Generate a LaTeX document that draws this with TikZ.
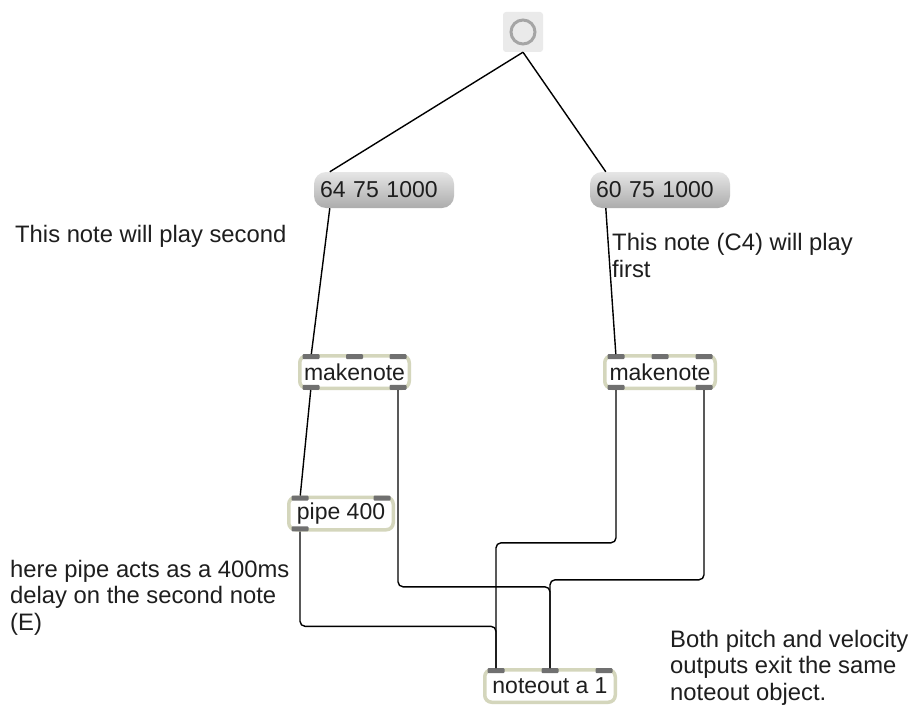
\documentclass[tikz,border=0pt]{standalone}
\usepackage{fontspec}
\setmainfont{Liberation Sans}
\usetikzlibrary{positioning}

\definecolor{objborder}{RGB}{212,214,188}
\definecolor{portgray}{RGB}{112,112,112}
\definecolor{msgtop}{RGB}{230,230,230}
\definecolor{msgbottom}{RGB}{172,172,172}
\definecolor{bangfill}{RGB}{234,234,234}
\definecolor{bangring}{RGB}{165,165,165}
\definecolor{inktext}{RGB}{30,30,30}

\newcommand{\patchfont}{\fontsize{23}{27}\selectfont}
\newcommand{\notefont}{\fontsize{23.8}{26.3}\selectfont}

\tikzset{
  objbox/.style={draw=objborder, line width=3.5pt, fill=white, rounded corners=7pt,
    minimum height=32.5pt, inner sep=0pt, font=\patchfont, text=inktext},
  msgbox/.style={rounded corners=12pt, top color=msgtop, bottom color=msgbottom,
    minimum height=36pt, text width=128pt, inner xsep=6pt, inner ysep=0pt,
    font=\patchfont, text=inktext},
  port/.style={fill=portgray, minimum width=17pt, minimum height=5pt, inner sep=0pt,
    rounded corners=1pt},
  patchcord/.style={line width=1.4pt, rounded corners=5pt},
  comment/.style={anchor=base west, align=left, font=\notefont, text=inktext, inner sep=0pt},
}

\begin{document}
\begin{tikzpicture}[x=1pt, y=-1pt]
    \fill[white] (0,0) rectangle (912,709);
    \useasboundingbox (0,0) rectangle (912,709);

    % bang
    \node[fill=bangfill, rounded corners=3pt, minimum size=40pt, inner sep=0pt] (bang) at (523,32) {};
    \node[circle, draw=bangring, line width=3pt, minimum size=24pt, inner sep=0pt] (bangring) at (bang) {};

    % message boxes
    \node[msgbox] (msgL) at (384,190) {64 75 1000};
    \node[msgbox] (msgR) at (660,190) {60 75 1000};
    \coordinate (msgL-in) at ([xshift=16pt]msgL.north west);
    \coordinate (msgR-in) at ([xshift=16pt]msgR.north west);
    \coordinate (msgL-out) at ([xshift=16pt]msgL.south west);
    \coordinate (msgR-out) at ([xshift=16pt]msgR.south west);

    % objects
    \node[objbox, minimum width=109.5pt] (mkL) at (354.5,372) {makenote};
    \node[objbox, minimum width=110.5pt] (mkR) at (660,372) {makenote};
    \node[objbox, minimum width=104.5pt] (pipe) at (341,513.5) {pipe 400};
    \node[objbox, minimum width=130.5pt] (nout) at (550,686) {noteout a 1};

    \foreach \b in {mkL,mkR} {
        \node[port, anchor=north] (\b-i1) at ([xshift=13pt]\b.north west) {};
        \node[port, anchor=north] (\b-i2) at (\b.north) {};
        \node[port, anchor=north] (\b-i3) at ([xshift=-13pt]\b.north east) {};
        \node[port, anchor=south] (\b-o1) at ([xshift=13pt]\b.south west) {};
        \node[port, anchor=south] (\b-o2) at ([xshift=-13pt]\b.south east) {};
    }
    \node[port, anchor=north] (pipe-i1) at ([xshift=13pt]pipe.north west) {};
    \node[port, anchor=north] (pipe-i2) at ([xshift=-13pt]pipe.north east) {};
    \node[port, anchor=south] (pipe-o1) at ([xshift=13pt]pipe.south west) {};
    \node[port, anchor=north] (nout-i1) at ([xshift=13pt]nout.north west) {};
    \node[port, anchor=north] (nout-i2) at (nout.north) {};
    \node[port, anchor=north] (nout-i3) at ([xshift=-13pt]nout.north east) {};

    % patch cords
    \draw[patchcord] (bang.south) -- (msgL-in);
    \draw[patchcord] (bang.south) -- (msgR-in);
    \draw[patchcord] (msgL-out) -- (mkL-i1);
    \draw[patchcord] (msgR-out) -- (mkR-i1);
    \draw[patchcord] (mkL-o1) -- (pipe-i1);
    \draw[patchcord] (pipe-o1) -- ++(0,97.5) -| (nout-i1);
    \draw[patchcord] (mkR-o1) -- ++(0,155.5) -| (nout-i1);
    \draw[patchcord] (mkL-o2) -- ++(0,199.5) -| (nout-i2);
    \draw[patchcord] (mkR-o2) -- ++(0,192.5) -| (nout-i2);

    % comments (base = last line)
    \node[comment] (noteSecond) at (15,242) {This note will play second};
    \node[comment] (noteFirst) at (612,277) {This note (C4) will play\\first};
    \node[comment] (notePipe) at (10,630) {here pipe acts as a 400ms\\delay on the second note\\(E)};
    \node[comment] (noteBoth) at (670,700) {Both pitch and velocity\\outputs exit the same\\noteout object.};
\end{tikzpicture}
\end{document}
